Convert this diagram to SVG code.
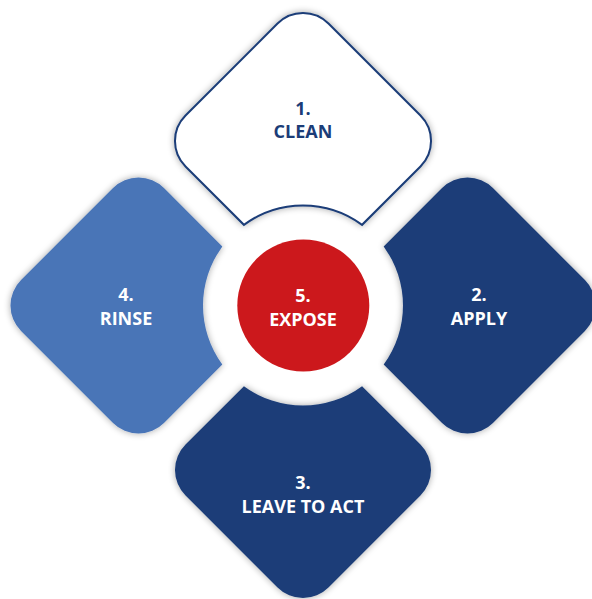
<svg xmlns="http://www.w3.org/2000/svg" width="592" height="599" viewBox="0 0 592 599">
  <defs>
    <filter id="shadow" x="-20%" y="-20%" width="140%" height="140%">
      <feGaussianBlur in="SourceAlpha" stdDeviation="3.5"/>
      <feComponentTransfer><feFuncA type="linear" slope="0.35"/></feComponentTransfer>
      <feMerge><feMergeNode/><feMergeNode in="SourceGraphic"/></feMerge>
    </filter>
  </defs>
  <style>
    .lbl { font-family: "Open Sans", "Liberation Sans", sans-serif; font-weight: 700; font-size: 18px; text-anchor: middle; }
    .w { fill: #ffffff; }
    .n { fill: #1b3d78; }
    .navy { fill: #1b3d78; }
    .light { fill: #4a75b7; }
  </style>
  <rect width="592" height="599" fill="#ffffff"/>
  <g id="connectors"></g>
  <g id="step1-clean">
    <path filter="url(#shadow)" fill="#ffffff" stroke="#1b3d78" stroke-width="2" d="M277.54 23.54 A36 36 0 0 1 328.46 23.54 L420.46 115.54 A36 36 0 0 1 420.46 166.46 L362.08 224.82 A100 100 0 0 0 243.92 224.82 L185.54 166.46 A36 36 0 0 1 185.54 115.54 Z"/>
    <text class="lbl n" x="303" y="115">1.</text>
    <text class="lbl n" x="303" y="138">CLEAN</text>
  </g>
  <g id="step2-apply">
    <path class="navy" filter="url(#shadow)" d="M584.96 280.04 A36 36 0 0 1 584.96 330.96 L492.96 422.96 A36 36 0 0 1 442.04 422.96 L383.68 364.58 A100 100 0 0 0 383.68 246.42 L442.04 188.04 A36 36 0 0 1 492.96 188.04 Z"/>
    <text class="lbl w" x="479" y="301">2.</text>
    <text class="lbl w" x="479" y="325">APPLY</text>
  </g>
  <g id="step3-leave">
    <path class="navy" filter="url(#shadow)" d="M328.46 587.46 A36 36 0 0 1 277.54 587.46 L185.54 495.46 A36 36 0 0 1 185.54 444.54 L243.92 386.18 A100 100 0 0 0 362.08 386.18 L420.46 444.54 A36 36 0 0 1 420.46 495.46 Z"/>
    <text class="lbl w" x="303" y="489">3.</text>
    <text class="lbl w" x="303" y="513">LEAVE TO ACT</text>
  </g>
  <g id="step4-rinse">
    <path class="light" filter="url(#shadow)" d="M21.04 330.96 A36 36 0 0 1 21.04 280.04 L113.04 188.04 A36 36 0 0 1 163.96 188.04 L222.32 246.42 A100 100 0 0 0 222.32 364.58 L163.96 422.96 A36 36 0 0 1 113.04 422.96 Z"/>
    <text class="lbl w" x="126" y="301">4.</text>
    <text class="lbl w" x="126" y="325">RINSE</text>
  </g>
  <g id="step5-expose">
    <circle cx="303.3" cy="305.5" r="66" fill="#cc181c"/>
    <text class="lbl w" x="303" y="301.5">5.</text>
    <text class="lbl w" x="303" y="326">EXPOSE</text>
  </g>
</svg>
